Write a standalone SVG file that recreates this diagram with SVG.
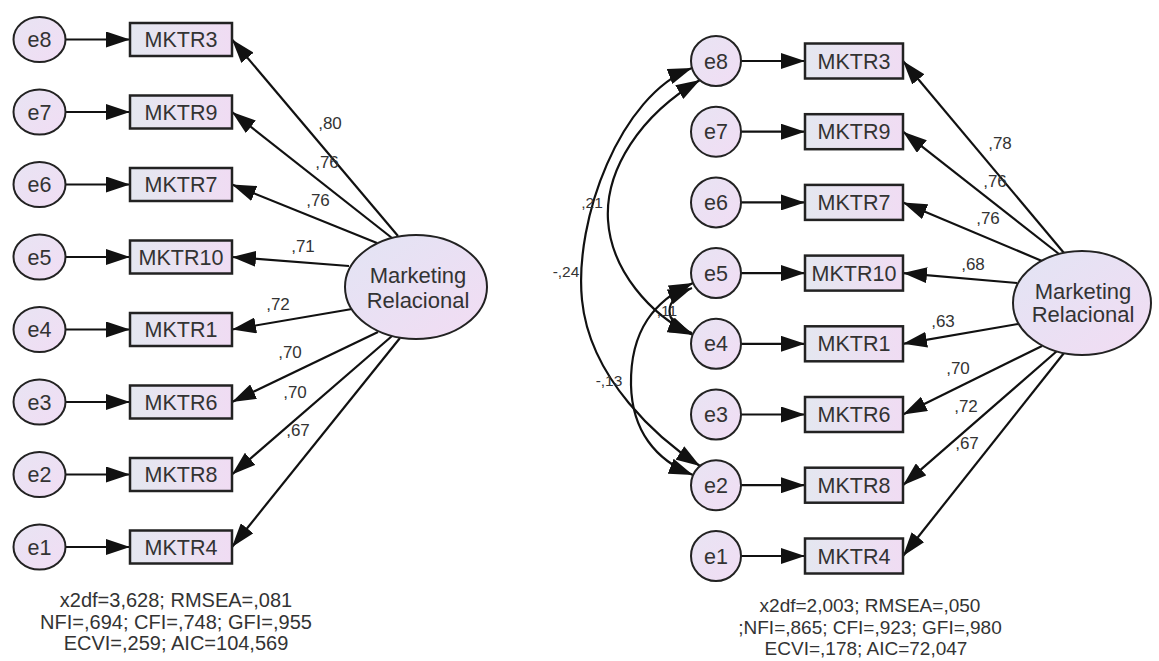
<svg xmlns="http://www.w3.org/2000/svg" width="1159" height="661" viewBox="0 0 1159 661">
  <defs>
    <linearGradient id="boxFill" x1="0" y1="0" x2="1" y2="0">
      <stop offset="0" stop-color="#e4e7f0"/>
      <stop offset="1" stop-color="#f0dcf3"/>
    </linearGradient>
    <linearGradient id="errFill" x1="0" y1="0" x2="1" y2="1">
      <stop offset="0" stop-color="#e8e4f3"/>
      <stop offset="1" stop-color="#f1ddf4"/>
    </linearGradient>
    <linearGradient id="latFill" x1="0" y1="0" x2="1" y2="1">
      <stop offset="0" stop-color="#e2e4f4"/>
      <stop offset="1" stop-color="#f2dcf3"/>
    </linearGradient>
    <marker id="ah" viewBox="0 0 24 16" refX="24" refY="8" markerWidth="24" markerHeight="16" markerUnits="userSpaceOnUse" orient="auto-start-reverse">
      <path d="M0,0 L24,8 L0,16 Z" fill="#111"/>
    </marker>
  </defs>
  <style>
    .err { fill: url(#errFill); stroke: #222; stroke-width: 2; }
    .box { fill: url(#boxFill); stroke: #222; stroke-width: 2.5; }
    .lat { fill: url(#latFill); stroke: #222; stroke-width: 2; }
    .lbl { font-family: "Liberation Sans", Arial, sans-serif; font-size: 21.5px; fill: #333; text-anchor: middle; }
    .latlbl { font-family: "Liberation Sans", Arial, sans-serif; font-size: 22px; fill: #333; text-anchor: middle; }
    .coef { font-family: "Liberation Sans", Arial, sans-serif; font-size: 17px; fill: #333; text-anchor: middle; }
    .cov { font-family: "Liberation Sans", Arial, sans-serif; font-size: 15.5px; fill: #333; text-anchor: middle; }
    .fit { font-family: "Liberation Sans", Arial, sans-serif; font-size: 20px; fill: #333; text-anchor: middle; }
    .fit2 { font-family: "Liberation Sans", Arial, sans-serif; font-size: 19px; fill: #333; text-anchor: middle; }
    .arr { stroke: #111; stroke-width: 2.2; fill: none; marker-end: url(#ah); }
    .dbl { stroke: #111; stroke-width: 2.2; fill: none; marker-start: url(#ah); marker-end: url(#ah); }
  </style>

  <rect width="1159" height="661" fill="#ffffff"/>

  <!-- ===== Model 1 (left) ===== -->
  <g id="m1-connectors">
    <!-- error terms to indicators -->
    <line class="arr" x1="65" y1="39.5" x2="130" y2="39.5"/>
    <line class="arr" x1="65" y1="112" x2="130" y2="112"/>
    <line class="arr" x1="65" y1="184.5" x2="130" y2="184.5"/>
    <line class="arr" x1="65" y1="257" x2="130" y2="257"/>
    <line class="arr" x1="65" y1="329.5" x2="130" y2="329.5"/>
    <line class="arr" x1="65" y1="402" x2="130" y2="402"/>
    <line class="arr" x1="65" y1="474.5" x2="130" y2="474.5"/>
    <line class="arr" x1="65" y1="547" x2="130" y2="547"/>
    <!-- loadings -->
    <line class="arr" x1="398" y1="236" x2="232" y2="39.5"/>
    <line class="arr" x1="392" y1="238" x2="232" y2="112"/>
    <line class="arr" x1="377" y1="243" x2="232" y2="184.5"/>
    <line class="arr" x1="349" y1="266" x2="232" y2="257"/>
    <line class="arr" x1="352" y1="309" x2="232" y2="329.5"/>
    <line class="arr" x1="378" y1="332" x2="232" y2="402"/>
    <line class="arr" x1="392" y1="336" x2="232" y2="474.5"/>
    <line class="arr" x1="400" y1="338" x2="232" y2="547"/>
  </g>
  <g id="m1-loading-labels">
    <text class="coef" x="330" y="129">,80</text>
    <text class="coef" x="327" y="168">,76</text>
    <text class="coef" x="318" y="206">,76</text>
    <text class="coef" x="303" y="252">,71</text>
    <text class="coef" x="278" y="310">,72</text>
    <text class="coef" x="290" y="358">,70</text>
    <text class="coef" x="295" y="398">,70</text>
    <text class="coef" x="298" y="436">,67</text>
  </g>

  <g id="m1-e8"><ellipse class="err" cx="39.5" cy="39.5" rx="26" ry="22.5"/><text class="lbl" x="39.5" y="47">e8</text></g>
  <g id="m1-e7"><ellipse class="err" cx="39.5" cy="112" rx="26" ry="22.5"/><text class="lbl" x="39.5" y="119.5">e7</text></g>
  <g id="m1-e6"><ellipse class="err" cx="39.5" cy="184.5" rx="26" ry="22.5"/><text class="lbl" x="39.5" y="192">e6</text></g>
  <g id="m1-e5"><ellipse class="err" cx="39.5" cy="257" rx="26" ry="22.5"/><text class="lbl" x="39.5" y="264.5">e5</text></g>
  <g id="m1-e4"><ellipse class="err" cx="39.5" cy="329.5" rx="26" ry="22.5"/><text class="lbl" x="39.5" y="337">e4</text></g>
  <g id="m1-e3"><ellipse class="err" cx="39.5" cy="402" rx="26" ry="22.5"/><text class="lbl" x="39.5" y="409.5">e3</text></g>
  <g id="m1-e2"><ellipse class="err" cx="39.5" cy="474.5" rx="26" ry="22.5"/><text class="lbl" x="39.5" y="482">e2</text></g>
  <g id="m1-e1"><ellipse class="err" cx="39.5" cy="547" rx="26" ry="22.5"/><text class="lbl" x="39.5" y="554.5">e1</text></g>

  <g id="m1-MKTR3"><rect class="box" x="130" y="23" width="102" height="33"/><text class="lbl" x="181" y="47">MKTR3</text></g>
  <g id="m1-MKTR9"><rect class="box" x="130" y="95.5" width="102" height="33"/><text class="lbl" x="181" y="119.5">MKTR9</text></g>
  <g id="m1-MKTR7"><rect class="box" x="130" y="168" width="102" height="33"/><text class="lbl" x="181" y="192">MKTR7</text></g>
  <g id="m1-MKTR10"><rect class="box" x="130" y="240.5" width="102" height="33"/><text class="lbl" x="181" y="264.5">MKTR10</text></g>
  <g id="m1-MKTR1"><rect class="box" x="130" y="313" width="102" height="33"/><text class="lbl" x="181" y="337">MKTR1</text></g>
  <g id="m1-MKTR6"><rect class="box" x="130" y="385.5" width="102" height="33"/><text class="lbl" x="181" y="409.5">MKTR6</text></g>
  <g id="m1-MKTR8"><rect class="box" x="130" y="458" width="102" height="33"/><text class="lbl" x="181" y="482">MKTR8</text></g>
  <g id="m1-MKTR4"><rect class="box" x="130" y="530.5" width="102" height="33"/><text class="lbl" x="181" y="554.5">MKTR4</text></g>

  <g id="m1-marketing-relacional">
    <ellipse class="lat" cx="416" cy="287" rx="71" ry="52"/>
    <text class="latlbl" x="418" y="283">Marketing</text>
    <text class="latlbl" x="418" y="308">Relacional</text>
  </g>

  <g id="m1-fit">
    <text class="fit" x="176" y="607">x2df=3,628; RMSEA=,081</text>
    <text class="fit" x="176" y="629">NFI=,694; CFI=,748; GFI=,955</text>
    <text class="fit" x="176" y="650">ECVI=,259; AIC=104,569</text>
  </g>

  <!-- ===== Model 2 (right) ===== -->
  <g id="m2-connectors">
    <line class="arr" x1="741" y1="61" x2="805" y2="61"/>
    <line class="arr" x1="741" y1="131.7" x2="805" y2="131.7"/>
    <line class="arr" x1="741" y1="202.4" x2="805" y2="202.4"/>
    <line class="arr" x1="741" y1="273.1" x2="805" y2="273.1"/>
    <line class="arr" x1="741" y1="343.8" x2="805" y2="343.8"/>
    <line class="arr" x1="741" y1="414.5" x2="805" y2="414.5"/>
    <line class="arr" x1="741" y1="485.2" x2="805" y2="485.2"/>
    <line class="arr" x1="741" y1="556" x2="805" y2="556"/>
    <line class="arr" x1="1064" y1="253" x2="903" y2="61"/>
    <line class="arr" x1="1059" y1="254" x2="903" y2="131.7"/>
    <line class="arr" x1="1042" y1="261" x2="903" y2="202.4"/>
    <line class="arr" x1="1017" y1="283" x2="903" y2="273.1"/>
    <line class="arr" x1="1018" y1="324" x2="903" y2="343.8"/>
    <line class="arr" x1="1042" y1="346" x2="903" y2="414.5"/>
    <line class="arr" x1="1057" y1="351" x2="903" y2="485.2"/>
    <line class="arr" x1="1064" y1="353" x2="903" y2="556"/>
    <!-- error covariances -->
    <path class="dbl" d="M692,68 C620,95 574,220 582,300 C590,380 660,440 700,466"/>
    <path class="dbl" d="M700,80 C640,115 605,170 608,220 C611,270 650,315 693,335"/>
    <path class="dbl" d="M693,283 C655,300 630,330 631,385 C632,430 655,460 693,475"/>
    <path class="dbl" d="M692,288 C662,300 662,322 692,333"/>
  </g>
  <g id="m2-labels">
    <text class="coef" x="1000" y="149">,78</text>
    <text class="coef" x="995" y="187">,76</text>
    <text class="coef" x="988" y="224">,76</text>
    <text class="coef" x="973" y="270">,68</text>
    <text class="coef" x="943" y="327">,63</text>
    <text class="coef" x="958" y="374">,70</text>
    <text class="coef" x="966" y="412">,72</text>
    <text class="coef" x="967" y="449">,67</text>
    <text class="cov" x="592" y="208">,21</text>
    <text class="cov" x="566" y="277">-,24</text>
    <text class="cov" x="609" y="386">-,13</text>
    <text class="cov" x="667" y="316">,11</text>
  </g>

  <g id="m2-e8"><circle class="err" cx="716" cy="61" r="25"/><text class="lbl" x="716" y="68.5">e8</text></g>
  <g id="m2-e7"><circle class="err" cx="716" cy="131.7" r="25"/><text class="lbl" x="716" y="139.2">e7</text></g>
  <g id="m2-e6"><circle class="err" cx="716" cy="202.4" r="25"/><text class="lbl" x="716" y="209.9">e6</text></g>
  <g id="m2-e5"><circle class="err" cx="716" cy="273.1" r="25"/><text class="lbl" x="716" y="280.6">e5</text></g>
  <g id="m2-e4"><circle class="err" cx="716" cy="343.8" r="25"/><text class="lbl" x="716" y="351.3">e4</text></g>
  <g id="m2-e3"><circle class="err" cx="716" cy="414.5" r="25"/><text class="lbl" x="716" y="422">e3</text></g>
  <g id="m2-e2"><circle class="err" cx="716" cy="485.2" r="25"/><text class="lbl" x="716" y="492.7">e2</text></g>
  <g id="m2-e1"><circle class="err" cx="716" cy="556" r="25"/><text class="lbl" x="716" y="563.5">e1</text></g>

  <g id="m2-MKTR3"><rect class="box" x="805" y="43.5" width="98" height="35"/><text class="lbl" x="854" y="68.5">MKTR3</text></g>
  <g id="m2-MKTR9"><rect class="box" x="805" y="114.2" width="98" height="35"/><text class="lbl" x="854" y="139.2">MKTR9</text></g>
  <g id="m2-MKTR7"><rect class="box" x="805" y="184.9" width="98" height="35"/><text class="lbl" x="854" y="209.9">MKTR7</text></g>
  <g id="m2-MKTR10"><rect class="box" x="805" y="255.6" width="98" height="35"/><text class="lbl" x="854" y="280.6">MKTR10</text></g>
  <g id="m2-MKTR1"><rect class="box" x="805" y="326.3" width="98" height="35"/><text class="lbl" x="854" y="351.3">MKTR1</text></g>
  <g id="m2-MKTR6"><rect class="box" x="805" y="397" width="98" height="35"/><text class="lbl" x="854" y="422">MKTR6</text></g>
  <g id="m2-MKTR8"><rect class="box" x="805" y="467.7" width="98" height="35"/><text class="lbl" x="854" y="492.7">MKTR8</text></g>
  <g id="m2-MKTR4"><rect class="box" x="805" y="538.5" width="98" height="35"/><text class="lbl" x="854" y="563.5">MKTR4</text></g>

  <g id="m2-marketing-relacional">
    <ellipse class="lat" cx="1082" cy="303" rx="69" ry="52"/>
    <text class="latlbl" x="1083" y="299">Marketing</text>
    <text class="latlbl" x="1083" y="322">Relacional</text>
  </g>

  <g id="m2-fit">
    <text class="fit2" x="870" y="612">x2df=2,003; RMSEA=,050</text>
    <text class="fit2" x="870" y="634">;NFI=,865; CFI=,923; GFI=,980</text>
    <text class="fit2" x="866" y="655">ECVI=,178; AIC=72,047</text>
  </g>
</svg>
